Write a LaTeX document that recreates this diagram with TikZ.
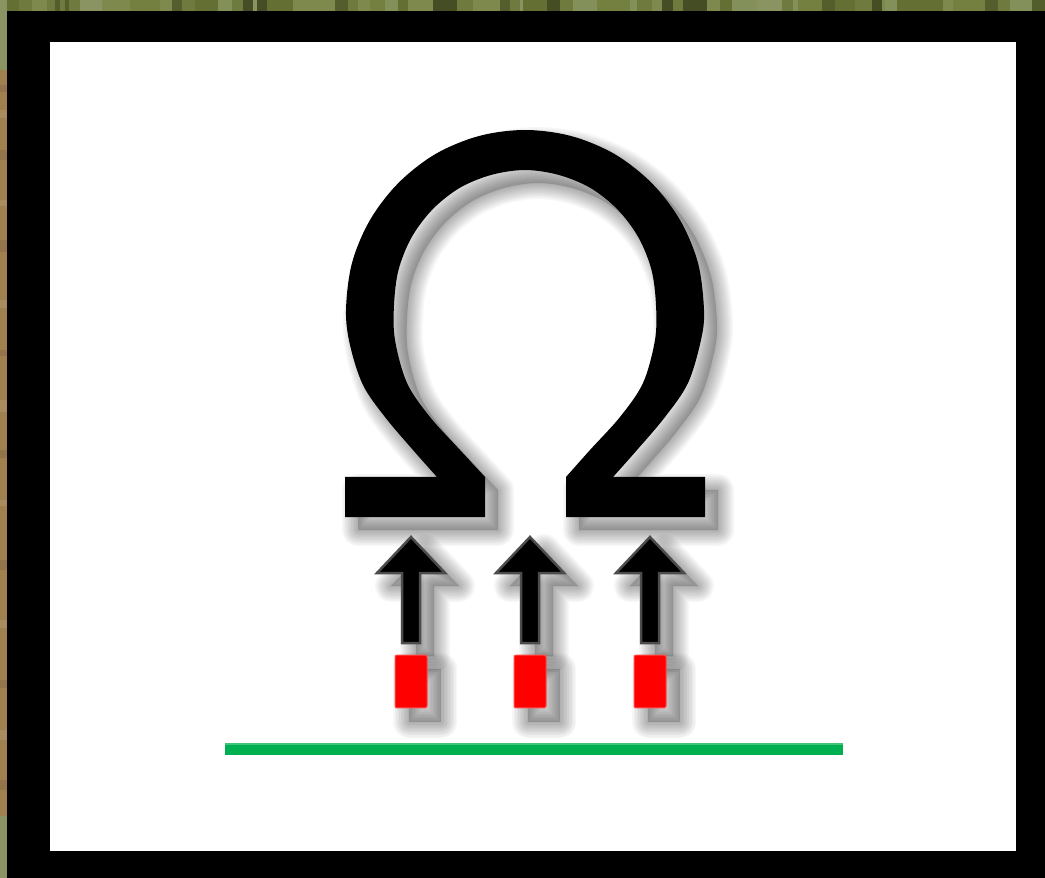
\documentclass[tikz,border=0pt]{standalone}
\usetikzlibrary{calc}
\definecolor{camA}{HTML}{8A9462}
\definecolor{camB}{HTML}{84905A}
\definecolor{camC}{HTML}{7E8A4D}
\definecolor{camD}{HTML}{74803F}
\definecolor{camE}{HTML}{6E7A3E}
\definecolor{camF}{HTML}{646F34}
\definecolor{camG}{HTML}{535E2C}
\definecolor{camH}{HTML}{454D24}
\definecolor{woodA}{HTML}{A0804F}
\definecolor{woodB}{HTML}{94744A}
\definecolor{woodC}{HTML}{A88B5E}
\definecolor{lineGreen}{HTML}{00B050}
\definecolor{lineGreenL}{HTML}{40C47C}
\newcommand\OmegaShape{(345,517) -- (485,517) -- (485,477) -- plot[smooth, tension=0.55] coordinates {(485,477) (460,450) (430,417) (407,383) (395,340) (394,305) (398.5,270) (411.5,237.5) (432.4,209.5) (459.5,188) (491,175) (525,170) (559,175) (590.5,188) (617.6,209.5) (638.5,237.5) (651.5,270) (656,305) (655,340) (643,383) (620,417) (590,450) (566,477)} -- (566,517) -- (705,517) -- (705,477) -- plot[smooth, tension=0.55] coordinates {(613,477) (637,450) (665,417) (688,383) (701,340) (704,310) (698,263) (680,220) (651.6,183) (614.5,154) (571,136) (525,130) (479,136) (435.5,154) (398.4,183) (370,220) (352,263) (346,310) (350,345) (363,385) (385,417) (413,450) (437,477)} -- (345,477) -- cycle}
\newcommand\softshadow[2]{%
  \fill[black, opacity=0.16, shift={#1}] #2;
  \foreach \w in {2,5,8,11,14,17,20,23,26,29,32}{\draw[black, opacity=0.03, line width=\w*0.02cm, line join=round, shift={#1}] #2;}%
}
\begin{document}
\begin{tikzpicture}[x=0.02cm, y=-0.02cm,
  redbox/.style={draw=red!70!white, line width=0.02cm, fill=red, rounded corners=0.04cm,
    minimum width=0.64cm, minimum height=1.06cm, inner sep=0pt},
  arrowbody/.style={fill=black, draw=black!70, line width=0.05cm, line join=miter},
  glyph/.style={fill=black}]
\useasboundingbox (0,0) rectangle (1045,878);
% camouflage background strips
\fill[camC] (0,0) rectangle (1045,11);
\foreach \a/\b/\c in {0/7/camA,7/19/camF,19/32/camE,32/47/camC,47/55/camE,55/60/camG,60/65/camE,65/69/camG,69/80/camE,80/102/camA,102/130/camC,130/160/camD,160/172/camC,172/182/camG,182/195/camE,195/218/camF,218/232/camB,232/243/camE,243/253/camH,253/257/camA,257/267/camH,267/293/camF,293/335/camC,335/348/camG,348/358/camE,358/370/camC,370/385/camD,385/398/camB,398/408/camF,408/433/camC,433/457/camH,457/473/camE,473/500/camC,500/510/camG,510/520/camE,520/523/camA,523/547/camF,547/560/camH,560/573/camE,573/597/camB,597/630/camD,630/637/camB,637/652/camE,652/662/camC,662/673/camH,673/683/camE,683/707/camH,707/720/camC,720/732/camF,732/757/camB,757/782/camA,782/793/camE,793/798/camB,798/822/camD,822/835/camG,835/855/camF,855/872/camE,872/882/camH,882/885/camC,885/897/camB,897/943/camF,943/953/camC,953/985/camD,985/998/camG,998/1010/camE,1010/1032/camB,1032/1045/camG}
  {\fill[\c] (\a,0) rectangle (\b,11);}
\fill[camA] (0,0) rectangle (7,70);
\fill[woodA] (0,70) rectangle (7,816);
\foreach \ya/\yb/\c in {85/92/woodB,110/118/woodC,150/160/woodB,200/206/woodC,240/252/woodB,300/308/woodC,350/356/woodB,400/412/woodC,450/458/woodB,500/506/woodC,560/570/woodB,620/628/woodC,680/688/woodB,730/740/woodC,780/790/woodB}
  {\fill[\c] (0,\ya) rectangle (7,\yb);}
\fill[camA] (0,816) rectangle (7,878);
% black frame and white panel
\fill[black] (7,11) rectangle (1045,878);
\fill[white] (50,42) rectangle (1016,851);
% shadows
\softshadow{(13,13)}{\OmegaShape}
\foreach \cx in {411,530,650}{
  \softshadow{(14,13)}{(\cx-9,643) -- (\cx-9,573) -- (\cx-34,573) -- (\cx,537) -- (\cx+34,573) -- (\cx+9,573) -- (\cx+9,643) -- cycle}
  \softshadow{(14,14)}{(\cx-16,655) rectangle (\cx+16,708)}
}
% omega glyph
\fill[glyph] \OmegaShape;
% arrows
\foreach \cx in {411,530,650}{
  \filldraw[arrowbody] (\cx-9,643) -- (\cx-9,573) -- (\cx-34,573) -- (\cx,537) -- (\cx+34,573) -- (\cx+9,573) -- (\cx+9,643) -- cycle;
}
% red blocks
\node[redbox] (r1) at (411,681.5) {};
\node[redbox] (r2) at (530,681.5) {};
\node[redbox] (r3) at (650,681.5) {};
% green base line
\coordinate (gl) at (225,749);
\coordinate (gr) at (843,749);
\draw[lineGreen, line width=0.24cm] (gl) -- (gr);
\draw[lineGreenL, line width=0.05cm] ($(gl)+(0,-5)$) -- ($(gr)+(0,-5)$);
\end{tikzpicture}
\end{document}
